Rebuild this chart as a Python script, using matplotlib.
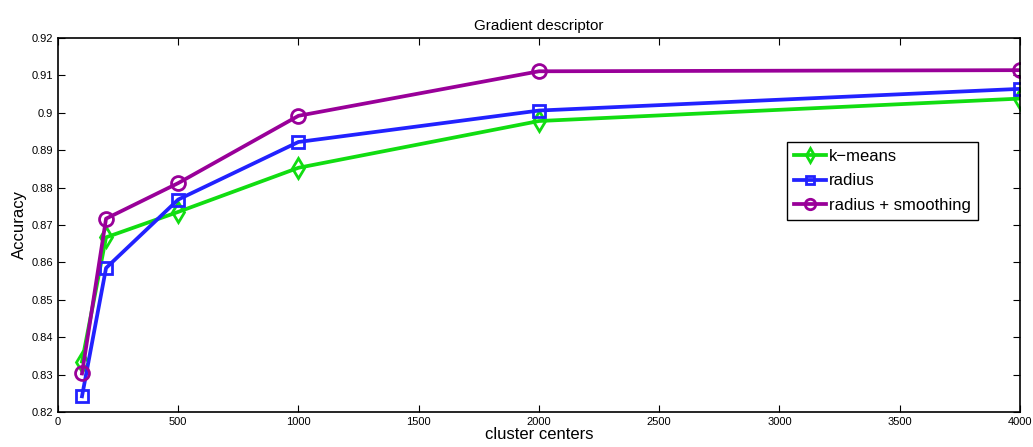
import matplotlib
matplotlib.use("Agg")
from matplotlib import pyplot as plt
from matplotlib.ticker import FuncFormatter

centers = [100, 200, 500, 1000, 2000, 4000]
kmeans = [0.8335, 0.8667, 0.8735, 0.8853, 0.8978, 0.9038]
radius = [0.8242, 0.8585, 0.8768, 0.8922, 0.9006, 0.9064]
smoothing = [0.8303, 0.8717, 0.8812, 0.8992, 0.9111, 0.9114]

plt.rcParams['font.family'] = ['Liberation Sans', 'DejaVu Sans']

fig = plt.figure(figsize=(10.33, 4.47), dpi=100)
ax = fig.add_axes([0.0561, 0.0783, 0.9313, 0.8367])

ax.plot(centers, kmeans, color='#11dd11', lw=2.7, marker='d', ms=10,
        mfc='none', mew=2, label='k\u2212means')
ax.plot(centers, radius, color='#2222ff', lw=2.7, marker='s', ms=8,
        mfc='none', mew=2, label='radius')
ax.plot(centers, smoothing, color='#990099', lw=2.7, marker='o', ms=10,
        mfc='none', mew=2, label='radius + smoothing')

ax.set_xlim(0, 4000)
ax.set_ylim(0.82, 0.92)
ax.set_xticks(range(0, 4001, 500))
ax.set_yticks([0.82 + 0.01 * i for i in range(11)])
ax.yaxis.set_major_formatter(FuncFormatter(lambda v, p: '%g' % round(v, 2)))
ax.tick_params(direction='in', top=True, right=True, labelsize=8, length=5)
for s in ax.spines.values():
    s.set_linewidth(1.2)

ax.set_title('Gradient descriptor', fontsize=11)
ax.set_xlabel('cluster centers', fontsize=12, labelpad=0)
ax.set_ylabel('Accuracy', fontsize=12, labelpad=3)

leg = ax.legend(loc='upper left', bbox_to_anchor=(0.749, 0.745), fontsize=12,
                fancybox=False, edgecolor='black', framealpha=1,
                handlelength=1.9, handletextpad=0.15, borderpad=0.45,
                labelspacing=0.55, markerscale=0.75)
leg.get_frame().set_linewidth(1)

fig.savefig('out.png', dpi=100)
